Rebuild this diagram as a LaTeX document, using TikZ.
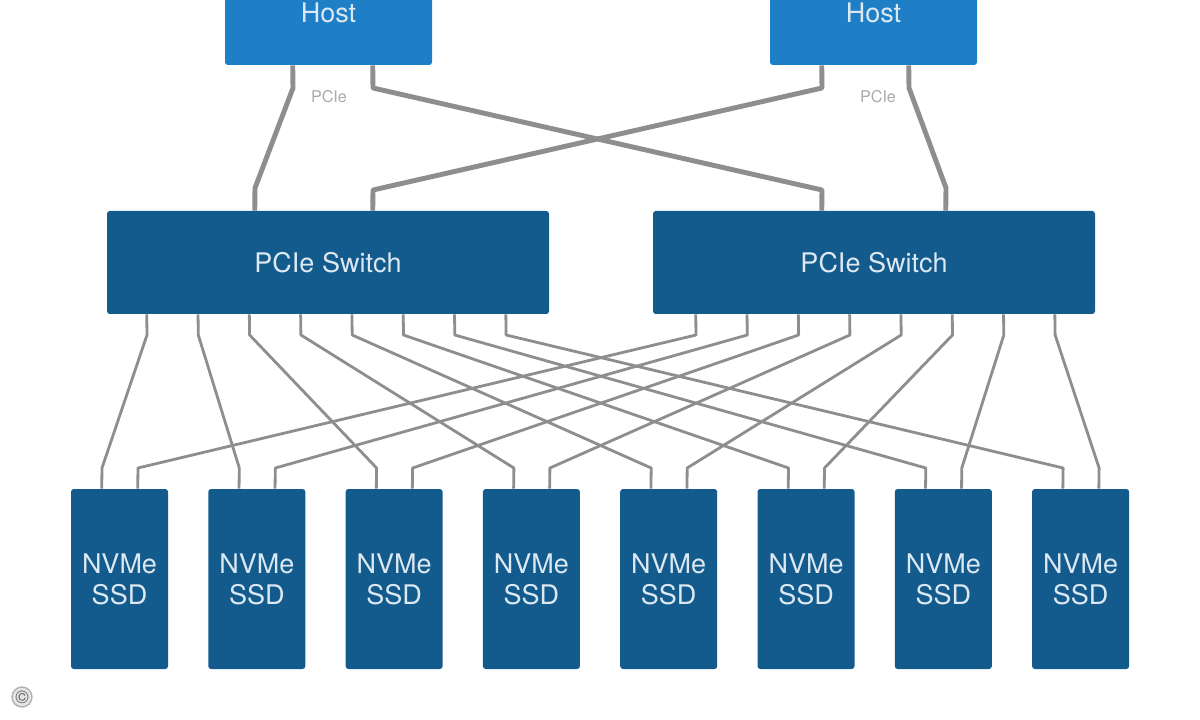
\documentclass[tikz,border=0pt]{standalone}
\usepackage{fontspec}
\setmainfont{TeX Gyre Heros}
\usetikzlibrary{calc,backgrounds}
\definecolor{hostblue}{HTML}{1E7EC6}
\definecolor{darkblue}{HTML}{135A8D}
\definecolor{linegray}{HTML}{8E8E8E}
\definecolor{boxtext}{HTML}{DCE8F2}
\definecolor{labelgray}{HTML}{ABABAB}
\begin{document}
\begin{tikzpicture}[x=0.025cm,y=-0.025cm,
  hostbox/.style={draw=none,fill=hostblue,rounded corners=2,minimum width=207*0.025cm,minimum height=105*0.025cm,inner sep=0pt,text=boxtext,font=\fontsize{19.2}{22}\selectfont},
  switchbox/.style={draw=none,fill=darkblue,rounded corners=2,minimum width=442*0.025cm,minimum height=103*0.025cm,inner sep=0pt,text=boxtext,font=\fontsize{19.2}{22}\selectfont},
  ssdbox/.style={draw=none,fill=darkblue,rounded corners=2,minimum width=97*0.025cm,minimum height=180*0.025cm,inner sep=0pt,text=boxtext,align=center,font=\fontsize{19.2}{22}\selectfont},
  hostlink/.style={draw=linegray,line width=3.5pt,line join=round},
  ssdlink/.style={draw=linegray,line width=2pt,line join=round},
  pcielabel/.style={text=labelgray,font=\fontsize{11.5}{13}\selectfont,inner sep=0pt},
  copyr/.style={circle,fill=gray!20,draw=gray!60,line width=1pt,inner sep=0pt,minimum size=0.5cm,text=gray!75!black,font=\fontsize{13}{14}\selectfont}
]
\clip (0,0) rectangle (1200,720);
\useasboundingbox (0,0) rectangle (1200,720);

\path
  node[hostbox] (hostL) at (328.5,12.5) {Host}
  node[hostbox] (hostR) at (873.5,12.5) {Host}
  node[switchbox] (swL) at (328,262.5) {PCIe Switch}
  node[switchbox] (swR) at (874,262.5) {PCIe Switch};
\foreach \i in {0,...,7} {
  \pgfmathsetmacro\sx{71+137.3*\i+48.5}
  \path node[ssdbox] (ssd\i) at (\sx,579) {NVMe\\SSD};
}

\begin{scope}[on background layer]
% host-to-switch links
\draw[hostlink] ($(hostL.south west)+(68,0)$) -- (293,88) -- (255,188) -- ($(swL.north west)+(148,0)$);
\draw[hostlink] ($(hostL.south west)+(148,0)$) -- (373,88) -- (822,190) -- ($(swR.north west)+(169,0)$);
\draw[hostlink] ($(hostR.south west)+(52,0)$) -- (822,88) -- (373,190) -- ($(swL.north west)+(266,0)$);
\draw[hostlink] ($(hostR.south west)+(139,0)$) -- (909,88) -- (946,188) -- ($(swR.north west)+(293,0)$);

% switch-to-SSD links
\foreach \i in {0,...,7} {
  \pgfmathsetmacro\la{40+51.3*\i}
  \pgfmathsetmacro\ra{43+51.3*\i}
  \pgfmathsetmacro\lx{107+\la}
  \pgfmathsetmacro\rx{653+\ra}
  \pgfmathsetmacro\lb{71+137.3*\i+31}
  \pgfmathsetmacro\rb{71+137.3*\i+67}
  \draw[ssdlink] ($(swL.south west)+(\la,0)$) -- (\lx,335) -- (\lb,468) -- ($(ssd\i.north west)+(31,0)$);
  \draw[ssdlink] ($(swR.south west)+(\ra,0)$) -- (\rx,335) -- (\rb,468) -- ($(ssd\i.north west)+(67,0)$);
}
\end{scope}

\node[pcielabel] (pl) at (329,97) {PCIe};
\node[pcielabel] (pr) at (878,97) {PCIe};
\node[copyr] (cp) at (22,697) {\textcopyright};
\end{tikzpicture}
\end{document}
